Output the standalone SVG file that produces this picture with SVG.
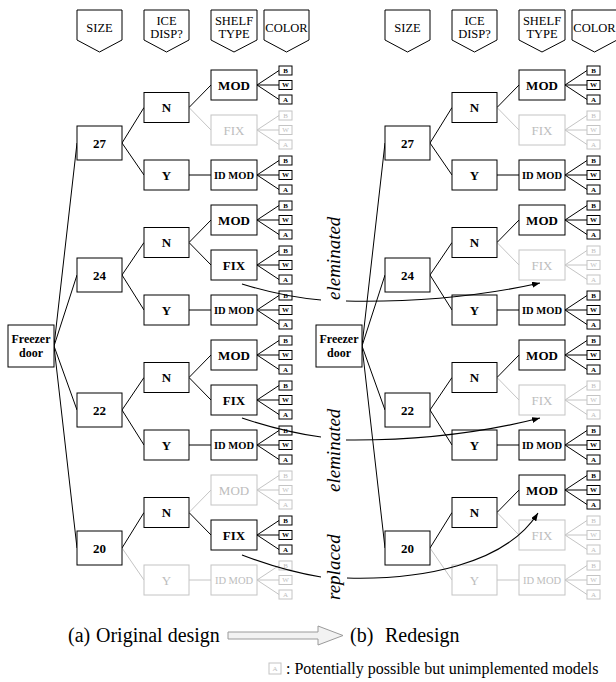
<svg xmlns="http://www.w3.org/2000/svg" width="616" height="682" viewBox="0 0 616 682">
<defs>
<style>
text{font-family:"Liberation Serif","Times New Roman",serif;fill:#000;text-anchor:middle;dominant-baseline:central}
.pent{fill:#fff;stroke:#000;stroke-width:1}
.hd{font-size:12.5px}
.bx{fill:#fff;stroke:#000;stroke-width:1}
.gbx{fill:#fff;stroke:#c4c4c4;stroke-width:1}
.lb{font-weight:bold;font-size:13px}
.glb{font-size:13px;fill:#bdbdbd}
.id{font-weight:bold;font-size:10.5px}
.gid{font-size:10.5px;fill:#bdbdbd}
.fd{font-weight:bold;font-size:12px}
.c{font-weight:bold;font-size:7px}
.gc{font-size:7px;fill:#bdbdbd}
.ln{stroke:#000;stroke-width:1;fill:none}
.gln{stroke:#c4c4c4;stroke-width:1;fill:none}
.cv{stroke:#000;stroke-width:1.1;fill:none}
.rot{font-style:italic;font-size:19px;text-anchor:start;dominant-baseline:alphabetic}
.cap{font-size:20px;text-anchor:start;dominant-baseline:alphabetic}
.cap2{font-size:16px;text-anchor:start;dominant-baseline:alphabetic}
</style>
<marker id="ah" viewBox="0 0 8 6" refX="8" refY="3" markerWidth="8" markerHeight="6" markerUnits="userSpaceOnUse" orient="auto"><path d="M0,0L8,3L0,6Z" fill="#000"/></marker>
</defs>
<rect width="616" height="682" fill="#fff"/>

<!-- ========== PANEL A ========== -->
<g id="panel-a">
<g id="a-connectors">
<path class="ln" d="M54,346L77,143M54,346L77,275M54,346L77,410M54,346L77,548"/>
<path class="ln" d="M122,143L144,107.5M122,143L144,175M122,275L144,242.5M122,275L144,310M122,410L144,377.5M122,410L144,445M122,548L144,512.5"/>
<path class="gln" d="M122,548L144,580"/>
<path class="ln" d="M189,107.5L211,85M189,175H211M189,242.5L211,220M189,242.5L211,265M189,310H211M189,377.5L211,355M189,377.5L211,400M189,445H211M189,512.5L211,535"/>
<path class="gln" d="M189,107.5L211,130M189,512.5L211,490M189,580H211"/>
<path class="ln" d="M257,85L279,70.5M257,85H279M257,85L279,99.5M257,175L279,160.5M257,175H279M257,175L279,189.5M257,220L279,205.5M257,220H279M257,220L279,234.5M257,265L279,250.5M257,265H279M257,265L279,279.5M257,310L279,295.5M257,310H279M257,310L279,324.5M257,355L279,340.5M257,355H279M257,355L279,369.5M257,400L279,385.5M257,400H279M257,400L279,414.5M257,445L279,430.5M257,445H279M257,445L279,459.5M257,535L279,520.5M257,535H279M257,535L279,549.5"/>
<path class="gln" d="M257,130L279,115.5M257,130H279M257,130L279,144.5M257,490L279,475.5M257,490H279M257,490L279,504.5M257,580L279,565.5M257,580H279M257,580L279,594.5"/>
</g>
<g id="a-headers">
<g id="a-h-size"><path class="pent" d="M77,10H122V40L99.5,52L77,40Z"/><text class="hd" x="99.5" y="28">SIZE</text></g>
<g id="a-h-ice"><path class="pent" d="M144,10H189V40L166.5,52L144,40Z"/><text class="hd" x="166.5" y="21">ICE</text><text class="hd" x="166.5" y="34">DISP?</text></g>
<g id="a-h-shelf"><path class="pent" d="M211,10H257V40L234,52L211,40Z"/><text class="hd" x="234" y="21">SHELF</text><text class="hd" x="234" y="34">TYPE</text></g>
<g id="a-h-color"><path class="pent" d="M264,10H309V40L286.5,52L264,40Z"/><text class="hd" x="286.5" y="28">COLOR</text></g>
</g>
<g id="a-freezer"><rect class="bx" x="8" y="325" width="46" height="42"/><text class="fd" x="31" y="339">Freezer</text><text class="fd" x="31" y="353">door</text></g>
<g id="a-s27"><rect class="bx" x="77" y="126" width="45" height="34"/><text class="lb" x="99.5" y="143">27</text></g>
<g id="a-s24"><rect class="bx" x="77" y="258" width="45" height="34"/><text class="lb" x="99.5" y="275">24</text></g>
<g id="a-s22"><rect class="bx" x="77" y="393" width="45" height="34"/><text class="lb" x="99.5" y="410">22</text></g>
<g id="a-s20"><rect class="bx" x="77" y="531" width="45" height="34"/><text class="lb" x="99.5" y="548">20</text></g>
<g id="a-n27"><rect class="bx" x="144" y="92.5" width="45" height="30"/><text class="lb" x="166.5" y="107.5">N</text></g>
<g id="a-y27"><rect class="bx" x="144" y="160" width="45" height="30"/><text class="lb" x="166.5" y="175">Y</text></g>
<g id="a-n24"><rect class="bx" x="144" y="227.5" width="45" height="30"/><text class="lb" x="166.5" y="242.5">N</text></g>
<g id="a-y24"><rect class="bx" x="144" y="295" width="45" height="30"/><text class="lb" x="166.5" y="310">Y</text></g>
<g id="a-n22"><rect class="bx" x="144" y="362.5" width="45" height="30"/><text class="lb" x="166.5" y="377.5">N</text></g>
<g id="a-y22"><rect class="bx" x="144" y="430" width="45" height="30"/><text class="lb" x="166.5" y="445">Y</text></g>
<g id="a-n20"><rect class="bx" x="144" y="497.5" width="45" height="30"/><text class="lb" x="166.5" y="512.5">N</text></g>
<g id="a-y20"><rect class="gbx" x="144" y="565" width="45" height="30"/><text class="glb" x="166.5" y="580">Y</text></g>
<g id="a-r1"><rect class="bx" x="211" y="70" width="46" height="30"/><text class="lb" x="234" y="85">MOD</text></g>
<g id="a-r2"><rect class="gbx" x="211" y="115" width="46" height="30"/><text class="glb" x="234" y="130">FIX</text></g>
<g id="a-r3"><rect class="bx" x="211" y="160" width="46" height="30"/><text class="id" x="234" y="175">ID MOD</text></g>
<g id="a-r4"><rect class="bx" x="211" y="205" width="46" height="30"/><text class="lb" x="234" y="220">MOD</text></g>
<g id="a-r5"><rect class="bx" x="211" y="250" width="46" height="30"/><text class="lb" x="234" y="265">FIX</text></g>
<g id="a-r6"><rect class="bx" x="211" y="295" width="46" height="30"/><text class="id" x="234" y="310">ID MOD</text></g>
<g id="a-r7"><rect class="bx" x="211" y="340" width="46" height="30"/><text class="lb" x="234" y="355">MOD</text></g>
<g id="a-r8"><rect class="bx" x="211" y="385" width="46" height="30"/><text class="lb" x="234" y="400">FIX</text></g>
<g id="a-r9"><rect class="bx" x="211" y="430" width="46" height="30"/><text class="id" x="234" y="445">ID MOD</text></g>
<g id="a-r10"><rect class="gbx" x="211" y="475" width="46" height="30"/><text class="glb" x="234" y="490">MOD</text></g>
<g id="a-r11"><rect class="bx" x="211" y="520" width="46" height="30"/><text class="lb" x="234" y="535">FIX</text></g>
<g id="a-r12"><rect class="gbx" x="211" y="565" width="46" height="30"/><text class="gid" x="234" y="580">ID MOD</text></g>
<g id="a-c1" transform="translate(279,85)"><rect class="bx" x="0" y="-19" width="13" height="9"/><rect class="bx" x="0" y="-4.5" width="13" height="9"/><rect class="bx" x="0" y="10" width="13" height="9"/><text class="c" x="6.5" y="-14.5">B</text><text class="c" x="6.5" y="0">W</text><text class="c" x="6.5" y="14.5">A</text></g>
<g id="a-c2" transform="translate(279,130)"><rect class="gbx" x="0" y="-19" width="13" height="9"/><rect class="gbx" x="0" y="-4.5" width="13" height="9"/><rect class="gbx" x="0" y="10" width="13" height="9"/><text class="gc" x="6.5" y="-14.5">B</text><text class="gc" x="6.5" y="0">W</text><text class="gc" x="6.5" y="14.5">A</text></g>
<g id="a-c3" transform="translate(279,175)"><rect class="bx" x="0" y="-19" width="13" height="9"/><rect class="bx" x="0" y="-4.5" width="13" height="9"/><rect class="bx" x="0" y="10" width="13" height="9"/><text class="c" x="6.5" y="-14.5">B</text><text class="c" x="6.5" y="0">W</text><text class="c" x="6.5" y="14.5">A</text></g>
<g id="a-c4" transform="translate(279,220)"><rect class="bx" x="0" y="-19" width="13" height="9"/><rect class="bx" x="0" y="-4.5" width="13" height="9"/><rect class="bx" x="0" y="10" width="13" height="9"/><text class="c" x="6.5" y="-14.5">B</text><text class="c" x="6.5" y="0">W</text><text class="c" x="6.5" y="14.5">A</text></g>
<g id="a-c5" transform="translate(279,265)"><rect class="bx" x="0" y="-19" width="13" height="9"/><rect class="bx" x="0" y="-4.5" width="13" height="9"/><rect class="bx" x="0" y="10" width="13" height="9"/><text class="c" x="6.5" y="-14.5">B</text><text class="c" x="6.5" y="0">W</text><text class="c" x="6.5" y="14.5">A</text></g>
<g id="a-c6" transform="translate(279,310)"><rect class="bx" x="0" y="-19" width="13" height="9"/><rect class="bx" x="0" y="-4.5" width="13" height="9"/><rect class="bx" x="0" y="10" width="13" height="9"/><text class="c" x="6.5" y="-14.5">B</text><text class="c" x="6.5" y="0">W</text><text class="c" x="6.5" y="14.5">A</text></g>
<g id="a-c7" transform="translate(279,355)"><rect class="bx" x="0" y="-19" width="13" height="9"/><rect class="bx" x="0" y="-4.5" width="13" height="9"/><rect class="bx" x="0" y="10" width="13" height="9"/><text class="c" x="6.5" y="-14.5">B</text><text class="c" x="6.5" y="0">W</text><text class="c" x="6.5" y="14.5">A</text></g>
<g id="a-c8" transform="translate(279,400)"><rect class="bx" x="0" y="-19" width="13" height="9"/><rect class="bx" x="0" y="-4.5" width="13" height="9"/><rect class="bx" x="0" y="10" width="13" height="9"/><text class="c" x="6.5" y="-14.5">B</text><text class="c" x="6.5" y="0">W</text><text class="c" x="6.5" y="14.5">A</text></g>
<g id="a-c9" transform="translate(279,445)"><rect class="bx" x="0" y="-19" width="13" height="9"/><rect class="bx" x="0" y="-4.5" width="13" height="9"/><rect class="bx" x="0" y="10" width="13" height="9"/><text class="c" x="6.5" y="-14.5">B</text><text class="c" x="6.5" y="0">W</text><text class="c" x="6.5" y="14.5">A</text></g>
<g id="a-c10" transform="translate(279,490)"><rect class="gbx" x="0" y="-19" width="13" height="9"/><rect class="gbx" x="0" y="-4.5" width="13" height="9"/><rect class="gbx" x="0" y="10" width="13" height="9"/><text class="gc" x="6.5" y="-14.5">B</text><text class="gc" x="6.5" y="0">W</text><text class="gc" x="6.5" y="14.5">A</text></g>
<g id="a-c11" transform="translate(279,535)"><rect class="bx" x="0" y="-19" width="13" height="9"/><rect class="bx" x="0" y="-4.5" width="13" height="9"/><rect class="bx" x="0" y="10" width="13" height="9"/><text class="c" x="6.5" y="-14.5">B</text><text class="c" x="6.5" y="0">W</text><text class="c" x="6.5" y="14.5">A</text></g>
<g id="a-c12" transform="translate(279,580)"><rect class="gbx" x="0" y="-19" width="13" height="9"/><rect class="gbx" x="0" y="-4.5" width="13" height="9"/><rect class="gbx" x="0" y="10" width="13" height="9"/><text class="gc" x="6.5" y="-14.5">B</text><text class="gc" x="6.5" y="0">W</text><text class="gc" x="6.5" y="14.5">A</text></g>
</g>

<!-- ========== PANEL B ========== -->
<g id="panel-b" transform="translate(308,0)">
<g id="b-connectors">
<path class="ln" d="M54,346L77,143M54,346L77,275M54,346L77,410M54,346L77,548"/>
<path class="ln" d="M122,143L144,107.5M122,143L144,175M122,275L144,242.5M122,275L144,310M122,410L144,377.5M122,410L144,445M122,548L144,512.5"/>
<path class="gln" d="M122,548L144,580"/>
<path class="ln" d="M189,107.5L211,85M189,175H211M189,242.5L211,220M189,310H211M189,377.5L211,355M189,445H211M189,512.5L211,490"/>
<path class="gln" d="M189,107.5L211,130M189,242.5L211,265M189,377.5L211,400M189,512.5L211,535M189,580H211"/>
<path class="ln" d="M257,85L279,70.5M257,85H279M257,85L279,99.5M257,175L279,160.5M257,175H279M257,175L279,189.5M257,220L279,205.5M257,220H279M257,220L279,234.5M257,310L279,295.5M257,310H279M257,310L279,324.5M257,355L279,340.5M257,355H279M257,355L279,369.5M257,445L279,430.5M257,445H279M257,445L279,459.5M257,490L279,475.5M257,490H279M257,490L279,504.5"/>
<path class="gln" d="M257,130L279,115.5M257,130H279M257,130L279,144.5M257,265L279,250.5M257,265H279M257,265L279,279.5M257,400L279,385.5M257,400H279M257,400L279,414.5M257,535L279,520.5M257,535H279M257,535L279,549.5M257,580L279,565.5M257,580H279M257,580L279,594.5"/>
</g>
<g id="b-headers">
<g id="b-h-size"><path class="pent" d="M77,10H122V40L99.5,52L77,40Z"/><text class="hd" x="99.5" y="28">SIZE</text></g>
<g id="b-h-ice"><path class="pent" d="M144,10H189V40L166.5,52L144,40Z"/><text class="hd" x="166.5" y="21">ICE</text><text class="hd" x="166.5" y="34">DISP?</text></g>
<g id="b-h-shelf"><path class="pent" d="M211,10H257V40L234,52L211,40Z"/><text class="hd" x="234" y="21">SHELF</text><text class="hd" x="234" y="34">TYPE</text></g>
<g id="b-h-color"><path class="pent" d="M264,10H309V40L286.5,52L264,40Z"/><text class="hd" x="286.5" y="28">COLOR</text></g>
</g>
<g id="b-freezer"><rect class="bx" x="8" y="325" width="46" height="42"/><text class="fd" x="31" y="339">Freezer</text><text class="fd" x="31" y="353">door</text></g>
<g id="b-s27"><rect class="bx" x="77" y="126" width="45" height="34"/><text class="lb" x="99.5" y="143">27</text></g>
<g id="b-s24"><rect class="bx" x="77" y="258" width="45" height="34"/><text class="lb" x="99.5" y="275">24</text></g>
<g id="b-s22"><rect class="bx" x="77" y="393" width="45" height="34"/><text class="lb" x="99.5" y="410">22</text></g>
<g id="b-s20"><rect class="bx" x="77" y="531" width="45" height="34"/><text class="lb" x="99.5" y="548">20</text></g>
<g id="b-n27"><rect class="bx" x="144" y="92.5" width="45" height="30"/><text class="lb" x="166.5" y="107.5">N</text></g>
<g id="b-y27"><rect class="bx" x="144" y="160" width="45" height="30"/><text class="lb" x="166.5" y="175">Y</text></g>
<g id="b-n24"><rect class="bx" x="144" y="227.5" width="45" height="30"/><text class="lb" x="166.5" y="242.5">N</text></g>
<g id="b-y24"><rect class="bx" x="144" y="295" width="45" height="30"/><text class="lb" x="166.5" y="310">Y</text></g>
<g id="b-n22"><rect class="bx" x="144" y="362.5" width="45" height="30"/><text class="lb" x="166.5" y="377.5">N</text></g>
<g id="b-y22"><rect class="bx" x="144" y="430" width="45" height="30"/><text class="lb" x="166.5" y="445">Y</text></g>
<g id="b-n20"><rect class="bx" x="144" y="497.5" width="45" height="30"/><text class="lb" x="166.5" y="512.5">N</text></g>
<g id="b-y20"><rect class="gbx" x="144" y="565" width="45" height="30"/><text class="glb" x="166.5" y="580">Y</text></g>
<g id="b-r1"><rect class="bx" x="211" y="70" width="46" height="30"/><text class="lb" x="234" y="85">MOD</text></g>
<g id="b-r2"><rect class="gbx" x="211" y="115" width="46" height="30"/><text class="glb" x="234" y="130">FIX</text></g>
<g id="b-r3"><rect class="bx" x="211" y="160" width="46" height="30"/><text class="id" x="234" y="175">ID MOD</text></g>
<g id="b-r4"><rect class="bx" x="211" y="205" width="46" height="30"/><text class="lb" x="234" y="220">MOD</text></g>
<g id="b-r5"><rect class="gbx" x="211" y="250" width="46" height="30"/><text class="glb" x="234" y="265">FIX</text></g>
<g id="b-r6"><rect class="bx" x="211" y="295" width="46" height="30"/><text class="id" x="234" y="310">ID MOD</text></g>
<g id="b-r7"><rect class="bx" x="211" y="340" width="46" height="30"/><text class="lb" x="234" y="355">MOD</text></g>
<g id="b-r8"><rect class="gbx" x="211" y="385" width="46" height="30"/><text class="glb" x="234" y="400">FIX</text></g>
<g id="b-r9"><rect class="bx" x="211" y="430" width="46" height="30"/><text class="id" x="234" y="445">ID MOD</text></g>
<g id="b-r10"><rect class="bx" x="211" y="475" width="46" height="30"/><text class="lb" x="234" y="490">MOD</text></g>
<g id="b-r11"><rect class="gbx" x="211" y="520" width="46" height="30"/><text class="glb" x="234" y="535">FIX</text></g>
<g id="b-r12"><rect class="gbx" x="211" y="565" width="46" height="30"/><text class="gid" x="234" y="580">ID MOD</text></g>
<g id="b-c1" transform="translate(279,85)"><rect class="bx" x="0" y="-19" width="13" height="9"/><rect class="bx" x="0" y="-4.5" width="13" height="9"/><rect class="bx" x="0" y="10" width="13" height="9"/><text class="c" x="6.5" y="-14.5">B</text><text class="c" x="6.5" y="0">W</text><text class="c" x="6.5" y="14.5">A</text></g>
<g id="b-c2" transform="translate(279,130)"><rect class="gbx" x="0" y="-19" width="13" height="9"/><rect class="gbx" x="0" y="-4.5" width="13" height="9"/><rect class="gbx" x="0" y="10" width="13" height="9"/><text class="gc" x="6.5" y="-14.5">B</text><text class="gc" x="6.5" y="0">W</text><text class="gc" x="6.5" y="14.5">A</text></g>
<g id="b-c3" transform="translate(279,175)"><rect class="bx" x="0" y="-19" width="13" height="9"/><rect class="bx" x="0" y="-4.5" width="13" height="9"/><rect class="bx" x="0" y="10" width="13" height="9"/><text class="c" x="6.5" y="-14.5">B</text><text class="c" x="6.5" y="0">W</text><text class="c" x="6.5" y="14.5">A</text></g>
<g id="b-c4" transform="translate(279,220)"><rect class="bx" x="0" y="-19" width="13" height="9"/><rect class="bx" x="0" y="-4.5" width="13" height="9"/><rect class="bx" x="0" y="10" width="13" height="9"/><text class="c" x="6.5" y="-14.5">B</text><text class="c" x="6.5" y="0">W</text><text class="c" x="6.5" y="14.5">A</text></g>
<g id="b-c5" transform="translate(279,265)"><rect class="gbx" x="0" y="-19" width="13" height="9"/><rect class="gbx" x="0" y="-4.5" width="13" height="9"/><rect class="gbx" x="0" y="10" width="13" height="9"/><text class="gc" x="6.5" y="-14.5">B</text><text class="gc" x="6.5" y="0">W</text><text class="gc" x="6.5" y="14.5">A</text></g>
<g id="b-c6" transform="translate(279,310)"><rect class="bx" x="0" y="-19" width="13" height="9"/><rect class="bx" x="0" y="-4.5" width="13" height="9"/><rect class="bx" x="0" y="10" width="13" height="9"/><text class="c" x="6.5" y="-14.5">B</text><text class="c" x="6.5" y="0">W</text><text class="c" x="6.5" y="14.5">A</text></g>
<g id="b-c7" transform="translate(279,355)"><rect class="bx" x="0" y="-19" width="13" height="9"/><rect class="bx" x="0" y="-4.5" width="13" height="9"/><rect class="bx" x="0" y="10" width="13" height="9"/><text class="c" x="6.5" y="-14.5">B</text><text class="c" x="6.5" y="0">W</text><text class="c" x="6.5" y="14.5">A</text></g>
<g id="b-c8" transform="translate(279,400)"><rect class="gbx" x="0" y="-19" width="13" height="9"/><rect class="gbx" x="0" y="-4.5" width="13" height="9"/><rect class="gbx" x="0" y="10" width="13" height="9"/><text class="gc" x="6.5" y="-14.5">B</text><text class="gc" x="6.5" y="0">W</text><text class="gc" x="6.5" y="14.5">A</text></g>
<g id="b-c9" transform="translate(279,445)"><rect class="bx" x="0" y="-19" width="13" height="9"/><rect class="bx" x="0" y="-4.5" width="13" height="9"/><rect class="bx" x="0" y="10" width="13" height="9"/><text class="c" x="6.5" y="-14.5">B</text><text class="c" x="6.5" y="0">W</text><text class="c" x="6.5" y="14.5">A</text></g>
<g id="b-c10" transform="translate(279,490)"><rect class="bx" x="0" y="-19" width="13" height="9"/><rect class="bx" x="0" y="-4.5" width="13" height="9"/><rect class="bx" x="0" y="10" width="13" height="9"/><text class="c" x="6.5" y="-14.5">B</text><text class="c" x="6.5" y="0">W</text><text class="c" x="6.5" y="14.5">A</text></g>
<g id="b-c11" transform="translate(279,535)"><rect class="gbx" x="0" y="-19" width="13" height="9"/><rect class="gbx" x="0" y="-4.5" width="13" height="9"/><rect class="gbx" x="0" y="10" width="13" height="9"/><text class="gc" x="6.5" y="-14.5">B</text><text class="gc" x="6.5" y="0">W</text><text class="gc" x="6.5" y="14.5">A</text></g>
<g id="b-c12" transform="translate(279,580)"><rect class="gbx" x="0" y="-19" width="13" height="9"/><rect class="gbx" x="0" y="-4.5" width="13" height="9"/><rect class="gbx" x="0" y="10" width="13" height="9"/><text class="gc" x="6.5" y="-14.5">B</text><text class="gc" x="6.5" y="0">W</text><text class="gc" x="6.5" y="14.5">A</text></g>
</g>

<!-- ========== TRANSFER ARROWS ========== -->
<g id="transfer-connectors">
<path class="cv" d="M242,284Q284,297 321,300"/>
<path class="cv" d="M346,301Q450,303 540,283" marker-end="url(#ah)"/>
<path class="cv" d="M242,418Q284,432 321,437"/>
<path class="cv" d="M346,440Q450,441 540,418" marker-end="url(#ah)"/>
<path class="cv" d="M242,555Q284,571 321,577"/>
<path class="cv" d="M347,578C420,580 505,565 538,513" marker-end="url(#ah)"/>
</g>
<g id="transfer-labels">
<text class="rot" transform="translate(340,300) rotate(-90)">eleminated</text>
<text class="rot" transform="translate(340,492) rotate(-90)">eleminated</text>
<text class="rot" transform="translate(340,600) rotate(-90)">replaced</text>
</g>

<!-- ========== CAPTION ========== -->
<g id="caption">
<text class="cap" x="68" y="642">(a)</text>
<text class="cap" x="96" y="642">Original design</text>
<path d="M228,632H318V626L343,635.5L318,645V639H228Z" fill="#f2f2f2" stroke="#9a9a9a" stroke-width="1"/>
<text class="cap" x="350" y="642">(b)</text>
<text class="cap" x="385" y="642">Redesign</text>
<g id="legend-box"><rect class="gbx" x="269" y="663" width="12" height="11"/><text class="gc" x="275" y="668.5">A</text></g>
<text class="cap2" x="286" y="674">: Potentially possible but unimplemented models</text>
</g>
</svg>
